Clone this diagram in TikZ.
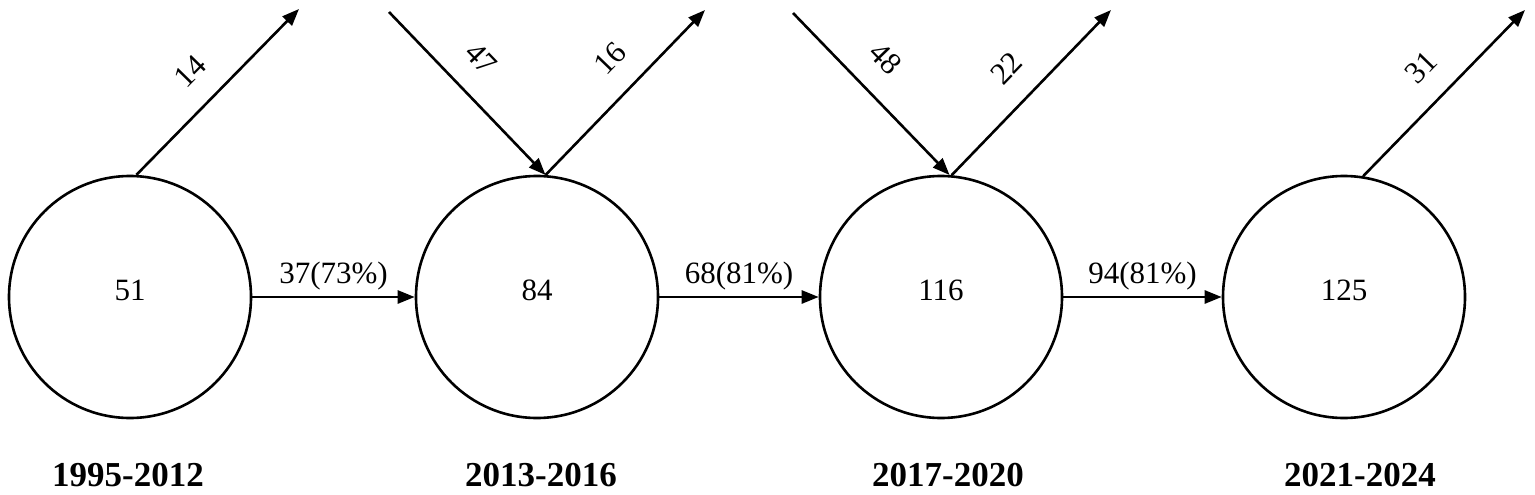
\documentclass[tikz,border=0pt]{standalone}
\usepackage{fontspec}
\setmainfont{Liberation Serif}
\usetikzlibrary{calc,arrows.meta}

\begin{document}
\begin{tikzpicture}[x=0.5pt,y=0.5pt,
        period/.style={draw,circle,line width=1.3pt,minimum size=121pt,inner sep=0pt,font=\fontsize{15.5}{18}\selectfont},
        flow/.style={line width=1.3pt,-{Triangle[length=8.5pt,width=6.5pt]}},
        num/.style={font=\fontsize{15.5}{18}\selectfont,inner sep=3pt},
        year/.style={font=\fontsize{17.5}{20}\selectfont\bfseries,inner sep=0pt}]
            \useasboundingbox (0,0) rectangle (1535,494);
            \foreach \x/\i/\n in {130/1/51,537/2/84,941/3/116,1344/4/125} {
            \node[period] (c\i) at (\x,197) {\raisebox{7pt}{\n}};}

            \foreach \a/\b/\t in {1/2/37(73\%),2/3/68(81\%),3/4/94(81\%)} {
            \draw[flow] (c\a) -- node[num,above] {\t} (c\b);}

            % leaving
            \foreach \i/\ang/\ex/\ey/\t/\p in {1/87/299/485/14/.48,2/86/705/484/16/.56,3/85/1111/484/22/.5,4/81/1525/484/31/.51} {
            \coordinate (out\i) at (\ex,\ey);
            \draw[flow] (c\i.\ang) -- node[num,sloped,above=8.5pt,pos=\p] {\t} (out\i);}

            % entering
            \foreach \i/\ang/\sx/\sy/\t/\p in {2/86/389/482/47/.43,3/86/793/481/48/.43} {
            \coordinate (in\i) at (\sx,\sy);
            \draw[flow] (in\i) -- node[num,sloped,above=8.5pt,pos=\p] {\t} (c\i.\ang);}

            \foreach \x/\i/\y in {128/1/1995-2012,541/2/2013-2016,948/3/2017-2020,1360/4/2021-2024} {
            \node[year] (y\i) at (\x,18.5) {\y};}
        \end{tikzpicture}
\end{document}
